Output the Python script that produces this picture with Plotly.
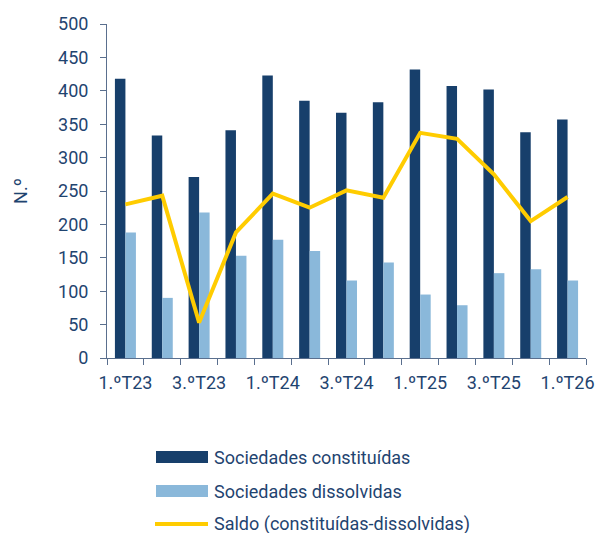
import plotly.graph_objects as go

# Quarterly company data
quarters = ["1.ºT23", "2.ºT23", "3.ºT23", "4.ºT23",
            "1.ºT24", "2.ºT24", "3.ºT24", "4.ºT24",
            "1.ºT25", "2.ºT25", "3.ºT25", "4.ºT25", "1.ºT26"]
constituidas = [418, 333, 271, 341, 423, 385, 367, 383, 432, 407, 402, 338, 357]
dissolvidas = [188, 90, 218, 153, 177, 160, 116, 143, 95, 79, 127, 133, 116]
saldo = [c - d for c, d in zip(constituidas, dissolvidas)]

# Only every other quarter is labelled on the x axis
tick_text = [q if i % 2 == 0 else "" for i, q in enumerate(quarters)]

DARK = "#173F6B"
LIGHT = "#8AB8DA"
YELLOW = "#FFCC00"
TEXT = "#1F4470"
AXIS = "#5A6F8E"
FONT = "Roboto"
FS = 18

W, H = 597, 533
L, R, T, B = 107, 11, 24, 175

fig = go.Figure()
fig.add_trace(go.Bar(x=quarters, y=constituidas, name="Sociedades constituídas",
                     marker_color=DARK, marker_line_width=0, showlegend=False))
fig.add_trace(go.Bar(x=quarters, y=dissolvidas, name="Sociedades dissolvidas",
                     marker_color=LIGHT, marker_line_width=0, showlegend=False))
fig.add_trace(go.Scatter(x=quarters, y=saldo, mode="lines",
                         name="Saldo (constituídas-dissolvidas)",
                         line=dict(color=YELLOW, width=4), showlegend=False))

fig.update_layout(
    width=W, height=H,
    margin=dict(l=L, r=R, t=T, b=B),
    paper_bgcolor="white", plot_bgcolor="white",
    barmode="group", bargap=0.43, bargroupgap=0,
    font=dict(family=FONT, size=FS, color=TEXT),
)

fig.update_xaxes(
    type="category", automargin=False,
    tickmode="array", tickvals=quarters, ticktext=tick_text, tickangle=0,
    tickson="boundaries", ticks="outside", ticklen=6, tickcolor=AXIS,
    showline=True, linecolor=AXIS, linewidth=1,
    showgrid=False, zeroline=False,
    tickfont=dict(family=FONT, size=FS, color=TEXT),
    ticklabelstandoff=8,
)
fig.update_yaxes(
    range=[0, 500], dtick=50, tick0=0, automargin=False,
    ticks="outside", ticklen=6, tickcolor=AXIS,
    showline=True, linecolor=AXIS, linewidth=1,
    showgrid=False, zeroline=False,
    tickfont=dict(family=FONT, size=FS, color=TEXT),
    ticklabelstandoff=8,
    title=dict(text="N.º", font=dict(family=FONT, size=FS, color=TEXT), standoff=25),
)

# Legend drawn below the plot area (pixel positions converted to paper units)
pw, ph = W - L - R, H - T - B


def px(x):
    return (x - L) / pw


def py(y):
    return (H - B - y) / ph


legend_items = [
    ("Sociedades constituídas", DARK, "bar", 457),
    ("Sociedades dissolvidas", LIGHT, "bar", 491),
    ("Saldo (constituídas-dissolvidas)", YELLOW, "line", 524),
]
for label, color, kind, yc in legend_items:
    if kind == "bar":
        fig.add_shape(type="rect", xref="paper", yref="paper",
                      x0=px(156), x1=px(208), y0=py(yc - 6), y1=py(yc + 6),
                      fillcolor=color, line_width=0)
    else:
        fig.add_shape(type="line", xref="paper", yref="paper",
                      x0=px(155), x1=px(208), y0=py(yc), y1=py(yc),
                      line=dict(color=color, width=4))
    fig.add_annotation(text=label, xref="paper", yref="paper",
                       x=px(212), y=py(yc), xanchor="left", yanchor="middle",
                       showarrow=False,
                       font=dict(family=FONT, size=FS, color=TEXT))

fig.write_html("out.html")
